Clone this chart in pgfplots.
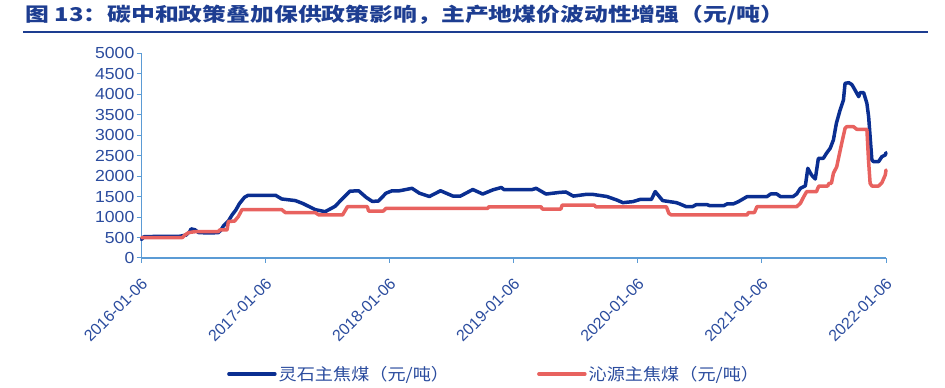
\documentclass[border=0pt]{standalone}
\usepackage{fontspec}
\setmainfont{Liberation Sans}
\newfontfamily\cjk{Noto Sans CJK SC}
\usepackage{graphicx}
\usepackage{pgfplots}
\pgfplotsset{compat=1.18}
\definecolor{lsblue}{HTML}{0A2E91}
\definecolor{qyred}{HTML}{E8625F}
\definecolor{axblue}{HTML}{5B9BD5}
\definecolor{txtblue}{HTML}{2B4C9E}
\definecolor{ttlblue}{HTML}{1D3D91}
\begin{document}
\begin{tikzpicture}[x=1pt,y=1pt]
\useasboundingbox (0,0) rectangle (945,388);
\node[anchor=base west, inner sep=0, text=ttlblue] at (25,366.5) {\scalebox{1.255}[1]{\cjk\bfseries\fontsize{19}{22}\selectfont 图 13：碳中和政策叠加保供政策影响，主产地煤价波动性增强（元/吨）}};
\draw[ttlblue, line width=2pt] (23,355.5) -- (928,355.5);
\begin{axis}[
  at={(141.5pt,130pt)}, anchor=south west,
  width=744.5pt, height=205pt, scale only axis,
  xmin=2016, xmax=2022, ymin=0, ymax=5000,
  clip=false,
  axis lines=left, axis line style={axblue, line width=1.2pt, -},
  tick style={axblue, line width=1pt}, major tick length=5pt, tick align=outside,
  xtick={2016,2017,2018,2019,2020,2021,2022},
  xticklabels={2016-01-06,2017-01-06,2018-01-06,2019-01-06,2020-01-06,2021-01-06,2022-01-06},
  ytick={0,500,...,5000},
  /pgf/number format/assume math mode=true,
  /pgf/number format/1000 sep={},
  yticklabel={\scalebox{1.1}[1]{\pgfmathprintnumber{\tick}}},
  ticklabel style={font=\fontsize{16}{18}\selectfont, text=txtblue},
  yticklabel style={inner sep=2pt},
  xticklabel style={yshift=-17pt, xshift=4pt, rotate=45, anchor=east, inner sep=1pt},
  legend columns=2,
  legend style={at={(0.1148,-0.566)}, anchor=west, draw=none, fill=none, inner sep=0pt,
    font=\cjk\fontsize{16.5}{18}\selectfont, text=txtblue},
  legend cell align=left,
  legend image code/.code={\draw[#1] (0pt,0pt) -- (46pt,0pt);},
]
\addplot[lsblue, line width=3.5pt, line join=round, line cap=round] coordinates {
(2016.00,450) (2016.02,520) (2016.10,525) (2016.30,525) (2016.36,560) (2016.39,650) (2016.40,710)
(2016.43,690) (2016.46,620) (2016.55,610) (2016.62,620) (2016.64,680) (2016.66,780) (2016.70,900)
(2016.73,1050) (2016.76,1170) (2016.79,1330) (2016.83,1480) (2016.86,1530) (2017.08,1530)
(2017.13,1440) (2017.24,1400) (2017.30,1330) (2017.40,1180) (2017.48,1130) (2017.56,1260)
(2017.62,1450) (2017.68,1630) (2017.75,1640) (2017.81,1480) (2017.86,1380) (2017.91,1390)
(2017.97,1580) (2018.02,1640) (2018.08,1640) (2018.18,1700) (2018.24,1580) (2018.32,1500)
(2018.41,1640) (2018.51,1510) (2018.57,1510) (2018.67,1670) (2018.75,1560) (2018.83,1660)
(2018.90,1720) (2018.92,1670) (2019.15,1670) (2019.18,1700) (2019.26,1560) (2019.37,1600)
(2019.42,1610) (2019.48,1510) (2019.58,1550) (2019.64,1550) (2019.75,1500) (2019.83,1415)
(2019.88,1350) (2019.96,1375) (2020.02,1430) (2020.11,1430) (2020.14,1620) (2020.20,1400)
(2020.31,1350) (2020.34,1317) (2020.39,1252) (2020.44,1252) (2020.47,1300) (2020.56,1300)
(2020.58,1275) (2020.69,1275) (2020.72,1320) (2020.77,1320) (2020.81,1374) (2020.88,1496)
(2021.04,1496) (2021.07,1561) (2021.12,1561) (2021.15,1496) (2021.25,1496) (2021.28,1561)
(2021.31,1700) (2021.35,1760) (2021.37,2187) (2021.40,2024) (2021.43,1927) (2021.455,2431)
(2021.495,2431) (2021.52,2553) (2021.55,2675) (2021.576,2878) (2021.60,3285) (2021.63,3610)
(2021.657,3854) (2021.67,4260) (2021.70,4276) (2021.725,4230) (2021.75,4098) (2021.78,3935)
(2021.79,4032) (2021.82,4032) (2021.846,3772) (2021.86,3447) (2021.886,2390) (2021.90,2350)
(2021.94,2350) (2021.967,2472) (2021.994,2512) (2022.00,2570)
};
\addlegendentry{\scalebox{1.1}[1]{灵石主焦煤（元/吨）}\rule{86pt}{0pt}}
\addplot[qyred, line width=3.5pt, line join=round, line cap=round] coordinates {
(2016.00,500) (2016.33,500) (2016.35,560) (2016.38,620) (2016.44,645) (2016.62,645) (2016.63,685)
(2016.69,685) (2016.70,890) (2016.75,900) (2016.78,1010) (2016.81,1180) (2017.13,1180)
(2017.16,1106) (2017.40,1106) (2017.43,1049) (2017.62,1049) (2017.66,1252) (2017.82,1252)
(2017.83,1146) (2017.95,1146) (2017.97,1211) (2018.79,1211) (2018.80,1250) (2019.22,1250)
(2019.23,1195) (2019.38,1195) (2019.39,1290) (2019.65,1290) (2019.66,1250) (2020.23,1250)
(2020.25,1090) (2020.27,1049) (2020.88,1049) (2020.89,1105) (2020.94,1110) (2020.96,1252)
(2021.28,1252) (2021.31,1333) (2021.33,1455) (2021.36,1618) (2021.44,1618) (2021.45,1700)
(2021.46,1756) (2021.53,1756) (2021.54,1821) (2021.56,1821) (2021.576,2065) (2021.603,2227)
(2021.617,2431) (2021.643,2797) (2021.67,3163) (2021.684,3203) (2021.738,3203) (2021.765,3138)
(2021.846,3138) (2021.859,2390) (2021.872,1821) (2021.886,1756) (2021.94,1756) (2021.967,1837)
(2021.994,2024) (2022.00,2146)
};
\addlegendentry{\scalebox{1.1}[1]{沁源主焦煤（元/吨）}}
\end{axis}
\end{tikzpicture}
\end{document}
